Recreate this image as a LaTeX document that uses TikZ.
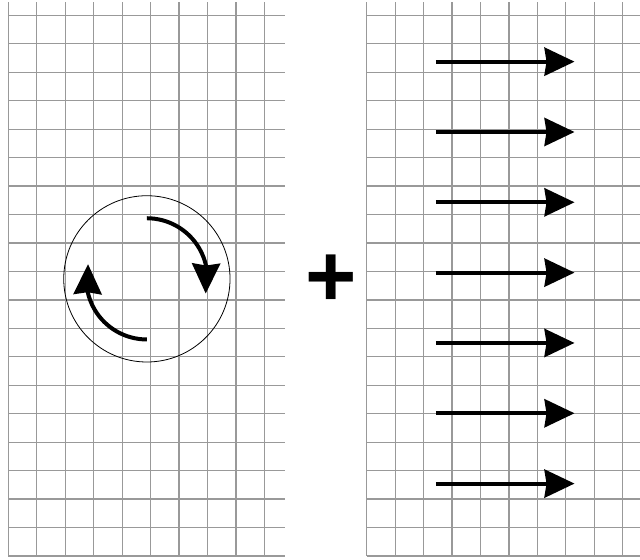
\documentclass[tikz,border=0pt]{standalone}
\usepackage{fontspec}
\setmainfont{Liberation Sans}
\usetikzlibrary{arrows.meta,bending}
\tikzset{
  gridline/.style={black!40,line width=1.2pt},
  flow/.style={line width=4pt,-{Stealth[length=30pt,width=28pt,inset=2pt]}},
}
\begin{document}
\begin{tikzpicture}[x=17.32pt,y=17.32pt]
\useasboundingbox (-0.48,-0.23) rectangle (36.47,32.1);
\clip (-0.48,-0.23) rectangle (36.47,32.1);
% rotating part
\begin{scope}
\draw[gridline] (0,0) grid (16,32);
\draw[line width=0.8pt] (8,16) circle (4.8);
\draw[flow] (8,19.5) arc (90:-14:3.5);
\draw[flow] (8,12.5) arc (270:166:3.5);
\end{scope}
\node[font=\fontsize{88}{88}\selectfont\bfseries,inner sep=0pt] (plus) at (18.62,15.9) {+};
% uniform part
\begin{scope}[shift={(20.69,0)}]
\draw[gridline] (0,0) grid (16,32);
\foreach \k in {0,...,6}
  \draw[flow] (4,28.54-4.06*\k) -- (12,28.54-4.06*\k);
\end{scope}
\end{tikzpicture}
\end{document}
